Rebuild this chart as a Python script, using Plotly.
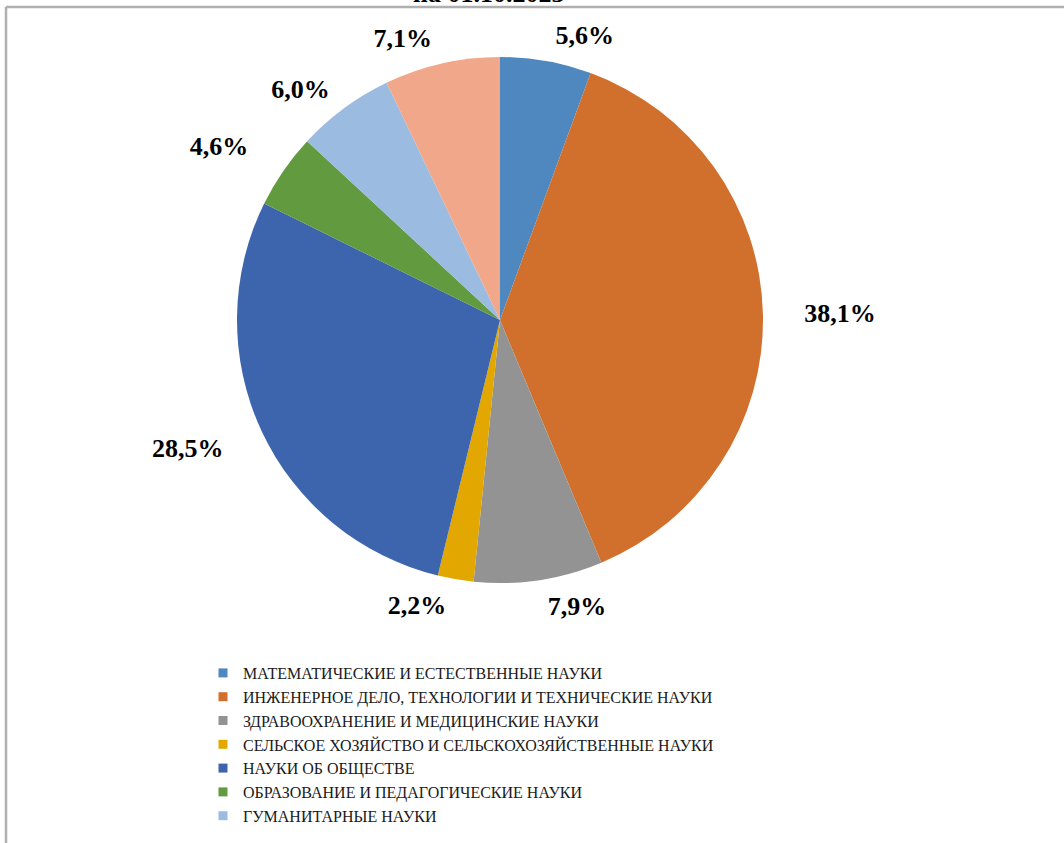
import plotly.graph_objects as go

categories = [
    "МАТЕМАТИЧЕСКИЕ И ЕСТЕСТВЕННЫЕ НАУКИ",
    "ИНЖЕНЕРНОЕ ДЕЛО, ТЕХНОЛОГИИ И ТЕХНИЧЕСКИЕ НАУКИ",
    "ЗДРАВООХРАНЕНИЕ И МЕДИЦИНСКИЕ НАУКИ",
    "СЕЛЬСКОЕ ХОЗЯЙСТВО И СЕЛЬСКОХОЗЯЙСТВЕННЫЕ НАУКИ",
    "НАУКИ ОБ ОБЩЕСТВЕ",
    "ОБРАЗОВАНИЕ И ПЕДАГОГИЧЕСКИЕ НАУКИ",
    "ГУМАНИТАРНЫЕ НАУКИ",
    "ИСКУССТВО И КУЛЬТУРА",
]
shares = [5.6, 38.1, 7.9, 2.2, 28.5, 4.6, 6.0, 7.1]
colors = ["#4F88BE", "#D16F2C", "#939393", "#E2A700",
          "#3D65AD", "#629A40", "#9BBBE0", "#F1A88A"]
# labels that sit further out from the pie (with leader lines in the original)
far_label = [False, True, False, False, True, True, False, False]
legend_count = 7
title_text = "на 01.10.2023"

SERIF = "Liberation Serif, Times New Roman, Tinos, DejaVu Serif, serif"
W, H = 1064, 843


def px_domain(x0, x1, y0, y1):
    # pixel box (top-left origin) -> paper domain
    return dict(x=[x0 / W, x1 / W], y=[(H - y1) / H, (H - y0) / H])


def fmt(v):
    return "<b>" + f"{v:.1f}".replace(".", ",") + "%</b>"


fig = go.Figure()

# visible pie (no text)
fig.add_trace(go.Pie(
    labels=categories,
    values=shares,
    marker=dict(colors=colors, line=dict(width=0)),
    sort=False,
    direction="clockwise",
    rotation=0,
    textinfo="none",
    showlegend=False,
    hoverinfo="label+value",
    domain=px_domain(237, 763, 57, 583),
))

# transparent pies carrying the outside value labels at two distances
for far, box in ((False, (225, 775, 45, 595)), (True, (203, 797, 23, 617))):
    fig.add_trace(go.Pie(
        labels=categories,
        values=shares,
        marker=dict(colors=["rgba(0,0,0,0)"] * len(shares), line=dict(width=0)),
        sort=False,
        direction="clockwise",
        rotation=0,
        textposition="outside",
        text=[fmt(v) if f == far else "" for v, f in zip(shares, far_label)],
        textinfo="text",
        outsidetextfont=dict(family=SERIF, size=26, color="#000000"),
        showlegend=False,
        hoverinfo="skip",
        domain=px_domain(*box),
    ))

for i in range(legend_count):
    fig.add_trace(go.Scatter(
        x=[None], y=[None], mode="markers", name=categories[i],
        marker=dict(symbol="square", size=9, color=colors[i]),
        showlegend=True,
    ))

fig.update_layout(
    width=W, height=H,
    margin=dict(l=0, r=0, t=0, b=0),
    paper_bgcolor="white", plot_bgcolor="white",
    font=dict(family=SERIF),
    xaxis=dict(visible=False), yaxis=dict(visible=False),
    legend=dict(
        x=203 / W, y=(H - 656) / H, xanchor="left", yanchor="top",
        orientation="v", tracegroupgap=0,
        font=dict(family=SERIF, size=16, color="#1a1a1a"),
        bgcolor="rgba(0,0,0,0)",
    ),
    shapes=[
        dict(type="line", xref="paper", yref="paper",
             x0=6 / W, x1=1.0, y0=(H - 7) / H, y1=(H - 7) / H,
             line=dict(color="#AFAFAF", width=2.5), layer="above"),
        dict(type="line", xref="paper", yref="paper",
             x0=6 / W, x1=6 / W, y0=0, y1=(H - 7) / H,
             line=dict(color="#AFAFAF", width=2.5), layer="above"),
    ],
    annotations=[dict(text="<b>" + title_text + "</b>", xref="paper", yref="paper",
                      x=488 / W, y=(H - 10) / H, xanchor="center", yanchor="bottom",
                      showarrow=False,
                      font=dict(family=SERIF, size=26, color="#000000"))],
)

fig.write_html("out.html", config={"displayModeBar": False},
               post_script="document.body.style.margin='0';document.body.style.overflow='hidden';")
